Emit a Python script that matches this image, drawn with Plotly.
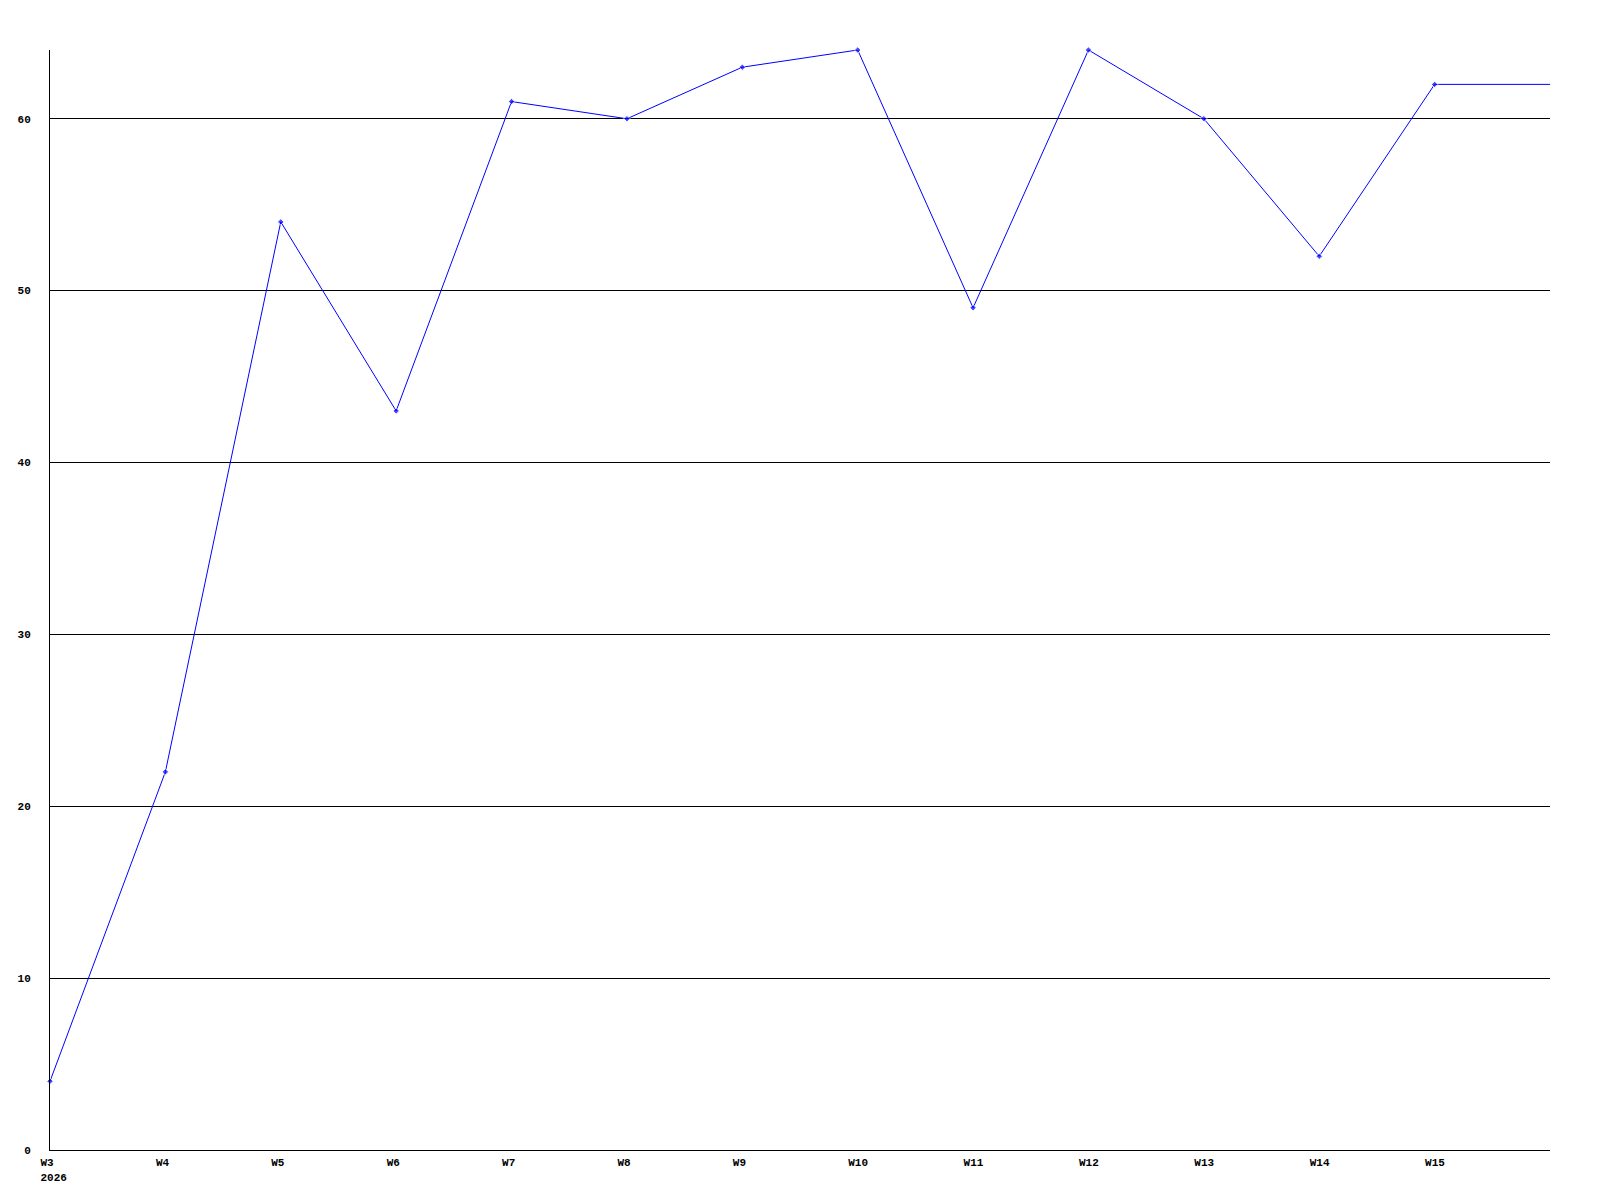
import plotly.graph_objects as go

# Weekly values
weeks = ["W3", "W4", "W5", "W6", "W7", "W8", "W9", "W10", "W11", "W12", "W13", "W14", "W15", "W16"]
values = [4, 22, 54, 43, 61, 60, 63, 64, 49, 64, 60, 52, 62, 62]
tick_labels = ["W3<br>2026", "W4", "W5", "W6", "W7", "W8", "W9", "W10", "W11", "W12", "W13", "W14", "W15"]
y_ticks = [0, 10, 20, 30, 40, 50, 60]

xs = list(range(len(weeks)))
# no marker on the last (open) week at the right edge
marker_sizes = [5] * (len(weeks) - 1) + [0]

fig = go.Figure()
fig.add_trace(go.Scatter(
    x=xs,
    y=values,
    mode="lines+markers",
    line=dict(color="#0000ff", width=1),
    marker=dict(color="#0000ff", size=marker_sizes, symbol="diamond"),
    cliponaxis=False,
    hoverinfo="skip",
))

tick_font = dict(family="Liberation Mono, DejaVu Sans Mono, monospace", size=11, color="black", weight="bold")

# the page body adds an 8px offset, so margins are trimmed to compensate
fig.update_layout(
    width=1592,
    height=1192,
    margin=dict(l=42, r=50, t=42, b=50),
    paper_bgcolor="white",
    plot_bgcolor="white",
    showlegend=False,
    xaxis=dict(
        range=[0, 13],
        tickvals=xs[:len(tick_labels)],
        ticktext=tick_labels,
        showgrid=False,
        zeroline=False,
        showline=True,
        linecolor="black",
        linewidth=1,
        ticks="",
        ticklabelposition="outside right",
        ticklabelshift=-10,
        ticklabelstandoff=2,
        tickfont=tick_font,
        automargin=False,
    ),
    yaxis=dict(
        range=[0, 64],
        tickvals=y_ticks,
        showgrid=True,
        gridcolor="black",
        gridwidth=1,
        zeroline=False,
        showline=True,
        linecolor="black",
        linewidth=1,
        ticks="",
        ticklabelstandoff=16,
        tickfont=tick_font,
        automargin=False,
    ),
)

fig.write_html("out.html")
